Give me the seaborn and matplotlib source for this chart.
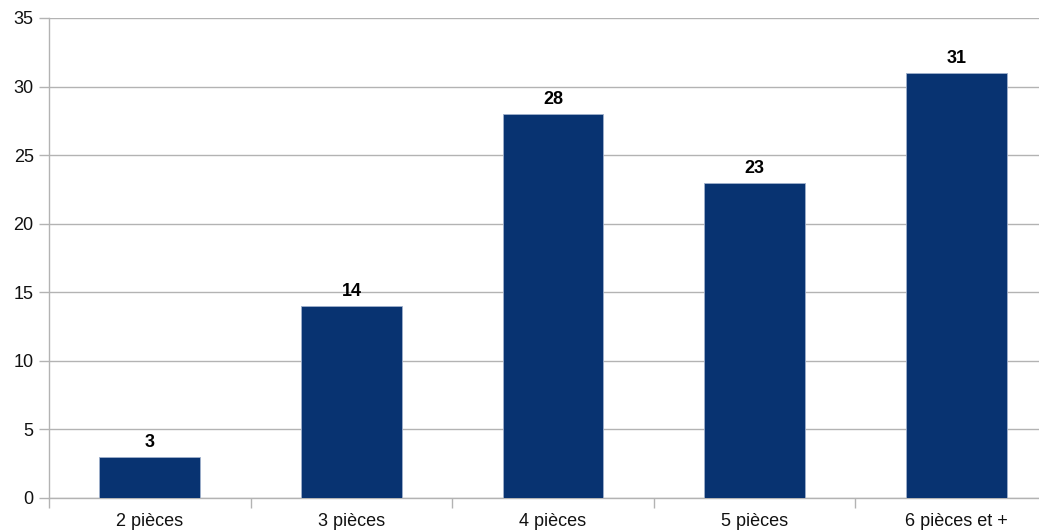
import matplotlib
matplotlib.use("Agg")
import matplotlib.pyplot as plt
import seaborn as sns
import pandas as pd
from matplotlib.ticker import FixedLocator, NullFormatter

# Number of rooms per dwelling
categories = ["2 pièces", "3 pièces", "4 pièces", "5 pièces", "6 pièces et +"]
values = [3, 14, 28, 23, 31]
y_ticks = [0, 5, 10, 15, 20, 25, 30, 35]

bar_color = "#083371"
grid_color = "#b3b3b3"
text_color = "#111111"

sns.set_theme(style="white")
plt.rcParams["font.family"] = ["Liberation Sans", "DejaVu Sans"]

df = pd.DataFrame({"cat": categories, "val": values})

fig = plt.figure(figsize=(10.39, 5.31), dpi=100)
ax = fig.add_axes([49 / 1039, 33 / 531, 1008 / 1039, 480 / 531])

sns.barplot(data=df, x="cat", y="val", order=categories, color=bar_color,
            width=0.5, saturation=1, edgecolor="#9fb0cc", linewidth=0.6,
            ax=ax, zorder=3)

ax.set_xlim(-0.5, len(categories) - 0.5)
ax.set_ylim(0, 35)
ax.set_yticks(y_ticks)
ax.set_yticklabels([str(t) for t in y_ticks])
ax.yaxis.grid(True, color=grid_color, linewidth=1.0, zorder=0)
ax.xaxis.grid(False)

# Tick marks sit between the categories; labels sit under the bars
ax.xaxis.set_major_locator(FixedLocator([i - 0.5 for i in range(len(categories) + 1)]))
ax.xaxis.set_major_formatter(NullFormatter())
ax.xaxis.set_minor_locator(FixedLocator(list(range(len(categories)))))
ax.set_xticklabels(categories, minor=True)
ax.tick_params(axis="x", which="major", length=7, width=1, color=grid_color, direction="out", bottom=True)
ax.tick_params(axis="x", which="minor", length=0, labelsize=13, labelcolor=text_color, pad=11)
ax.tick_params(axis="y", length=7, width=1, color=grid_color, direction="out", left=True,
               labelsize=13, labelcolor=text_color, pad=4)

ax.set_xlabel("")
ax.set_ylabel("")
for side in ["top", "right"]:
    ax.spines[side].set_visible(False)
for side in ["left", "bottom"]:
    ax.spines[side].set_color(grid_color)
    ax.spines[side].set_linewidth(1.0)

for container in ax.containers:
    ax.bar_label(container, labels=[f"{v:.0f}" for v in values], padding=4,
                 fontsize=13, fontweight="bold", color="black")

fig.savefig("out.png", dpi=100)
